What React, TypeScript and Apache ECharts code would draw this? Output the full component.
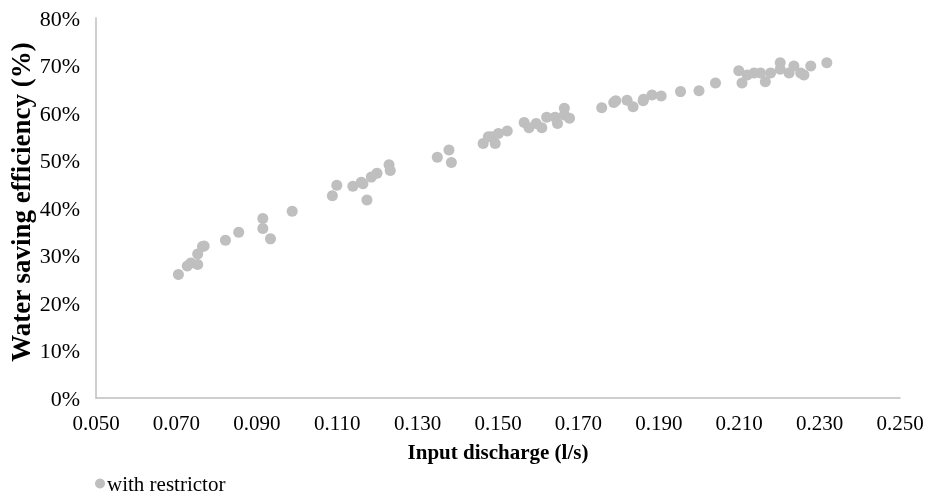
import React, { useEffect, useRef } from "react";
import * as echarts from "echarts";

const seriesName = "with restrictor";
const xTitle = "Input discharge (l/s)";
const yTitle = "Water saving efficiency (%)";

const discharge = [
  0.0705, 0.0727, 0.0736, 0.0753, 0.0753, 0.0765, 0.0769, 0.0822, 0.0855, 0.0915,
  0.0915, 0.0934, 0.0988, 0.1088, 0.1099, 0.1139, 0.116, 0.1164, 0.1174, 0.1185,
  0.1199, 0.1229, 0.1232, 0.1349, 0.1378, 0.1384, 0.1463, 0.1484, 0.1493, 0.1476,
  0.1501, 0.1523, 0.1565, 0.1577, 0.1595, 0.1609, 0.1621, 0.1642, 0.1648, 0.1665,
  0.1665, 0.1678, 0.1758, 0.1788, 0.1793, 0.1821, 0.1836, 0.1861, 0.1862, 0.1883,
  0.1906, 0.1954, 0.2, 0.2041, 0.2099, 0.2107, 0.212, 0.2137, 0.2153, 0.2165,
  0.2178, 0.2202, 0.2202, 0.2224, 0.2236, 0.2253, 0.2261, 0.2278, 0.2318,
];
const efficiency = [
  26.0, 27.8, 28.4, 28.1, 30.3, 31.9, 32.0, 33.2, 34.9, 37.8,
  35.7, 33.5, 39.3, 42.6, 44.8, 44.6, 45.4, 45.1, 41.7, 46.5,
  47.3, 49.1, 47.9, 50.7, 52.2, 49.6, 53.6, 55.0, 53.6, 55.0,
  55.7, 56.2, 58.0, 56.9, 57.8, 56.9, 59.1, 59.1, 57.8, 61.0,
  59.6, 58.9, 61.1, 62.2, 62.6, 62.7, 61.3, 62.6, 62.9, 63.8,
  63.6, 64.5, 64.7, 66.3, 68.9, 66.3, 68.0, 68.4, 68.4, 66.6,
  68.4, 70.6, 69.2, 68.4, 69.9, 68.4, 68.0, 69.9, 70.6,
];

const FONT = "'Liberation Serif', 'Times New Roman', serif";

export default function App() {
  const ref = useRef<HTMLDivElement>(null);
  useEffect(() => {
    if (!ref.current) return;
    const chart = echarts.init(ref.current, undefined, { renderer: "svg" });
    const data = discharge.map((x, i) => [x, efficiency[i]]);
    chart.setOption({
      animation: false,
      textStyle: { fontFamily: FONT },
      grid: {
        left: 96,
        right: 33,
        top: 18,
        bottom: 99,
        containLabel: false,
        outerBoundsMode: "none",
      },
      legend: {
        left: 90,
        top: 468,
        itemWidth: 10,
        itemHeight: 10,
        itemGap: 4,
        icon: "circle",
        textStyle: { fontFamily: FONT, fontSize: 21, color: "#000", padding: [0, 0, 0, -3] },
        data: [seriesName],
      },
      xAxis: {
        type: "value",
        min: 0.05,
        max: 0.25,
        interval: 0.02,
        name: xTitle,
        nameLocation: "middle",
        nameGap: 43,
        nameMoveOverlap: false,
        nameTextStyle: { fontFamily: FONT, fontSize: 21, fontWeight: "bold", color: "#000" },
        axisLine: { show: true, lineStyle: { color: "#bfbfbf", width: 1.5 } },
        axisTick: { show: false },
        splitLine: { show: false },
        axisLabel: {
          fontFamily: FONT,
          fontSize: 21,
          color: "#000",
          margin: 14,
          formatter: (v: number) => v.toFixed(3),
        },
      },
      yAxis: {
        type: "value",
        min: 0,
        max: 80,
        interval: 10,
        name: yTitle,
        nameLocation: "middle",
        nameGap: 62,
        nameMoveOverlap: false,
        nameTextStyle: {
          fontFamily: FONT,
          fontSize: 27,
          fontWeight: "bold",
          color: "#000",
          padding: [0, 0, 0, 12],
        },
        axisLine: { show: true, lineStyle: { color: "#bfbfbf", width: 1.5 } },
        axisTick: { show: false },
        splitLine: { show: false },
        axisLabel: {
          fontFamily: FONT,
          fontSize: 22,
          color: "#000",
          margin: 16,
          formatter: (v: number) => Math.round(v) + "%",
        },
      },
      series: [
        {
          name: seriesName,
          type: "scatter",
          symbol: "circle",
          symbolSize: 11,
          itemStyle: { color: "#bfbfbf", opacity: 1 },
          data,
        },
      ],
    });
    return () => chart.dispose();
  }, []);
  return (
    <div
      ref={ref}
      style={{ position: "fixed", left: 0, top: 0, width: 933, height: 497 }}
    />
  );
}
